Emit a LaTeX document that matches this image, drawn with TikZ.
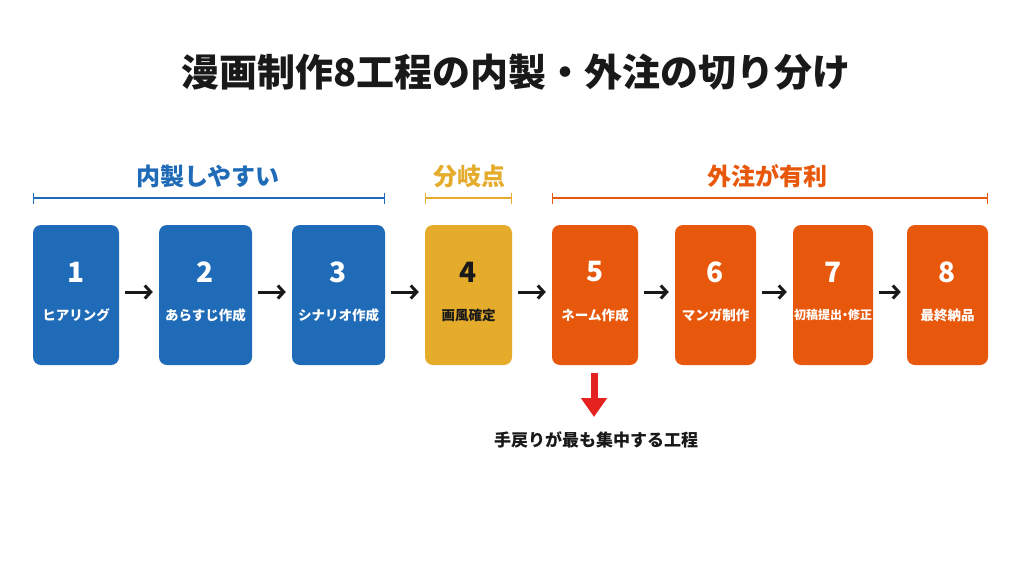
\documentclass[tikz,border=0pt]{standalone}
\usepackage{fontspec}
\setmainfont{Noto Sans CJK JP}
\newfontfamily\titlefont{Noto Sans CJK JP Black}
\usetikzlibrary{arrows.meta}

\definecolor{inblue}{RGB}{31,107,183}
\definecolor{pivotyel}{RGB}{229,172,44}
\definecolor{outorg}{RGB}{232,88,12}
\definecolor{alertred}{RGB}{228,35,32}
\definecolor{inkdark}{RGB}{25,25,25}

\begin{document}
\begin{tikzpicture}[x=1pt, y=-1pt,
    procbox/.style={rounded corners=8pt, minimum height=140pt, inner sep=0pt},
    numlab/.style={font=\bfseries\fontsize{28}{30}\selectfont},
    namelab/.style={font=\bfseries\fontsize{13.5}{15}\selectfont},
    grplab/.style={font=\bfseries\fontsize{24}{26}\selectfont},
    bracket/.style={{Bar[width=11pt]}-{Bar[width=11pt]}, line width=1.6pt},
    flow/.style={-{Straight Barb[length=6pt,width=13pt]}, line width=3pt,
                 shorten <=6pt, shorten >=6pt, inkdark},
    redarrow/.style={-{Triangle[length=19pt,width=25pt]}, line width=7pt, alertred}
  ]
  \useasboundingbox (0,0) rectangle (1024,576);

  % Title
  \node[font=\titlefont\fontsize{38}{40}\selectfont, text=inkdark] (title) at (516,72)
    {漫画制作8工程の内製・外注の切り分け};

  % Process boxes
  \foreach \i/\cx/\w/\fc/\tc/\lab in {
      1/76/86/inblue/white/ヒアリング,
      2/205.5/93/inblue/white/あらすじ作成,
      3/338.5/93/inblue/white/シナリオ作成,
      4/468.5/87/pivotyel/inkdark/画風確定,
      5/595/86/outorg/white/ネーム作成,
      6/715.5/81/outorg/white/マンガ制作,
      7/833/80/outorg/white/{\fontsize{12}{14}\selectfont 初稿提出\kern-3pt・\kern-3pt修正},
      8/947.5/81/outorg/white/最終納品} {
    \node[procbox, fill=\fc, minimum width=\w pt] (s\i) at (\cx,295) {};
    \node[numlab, text=\tc] (n\i) at (\cx,272) {\i};
    \node[namelab, text=\tc] (l\i) at (\cx,315) {\lab};
  }

  % Flow arrows
  \foreach \a/\b in {1/2, 2/3, 3/4, 4/5, 5/6, 6/7, 7/8} {
    \draw[flow] ([yshift=3pt]s\a.east) -- ([yshift=3pt]s\b.west);
  }

  % Group brackets
  \draw[bracket, inblue] (s1.west |- 0,198) -- (s3.east |- 0,198);
  \draw[bracket, pivotyel] (s4.west |- 0,198) -- (s4.east |- 0,198);
  \draw[bracket, outorg] (s5.west |- 0,198) -- (s8.east |- 0,198);
  \node[grplab, text=inblue] (gin) at (208,176) {内製しやすい};
  \node[grplab, text=pivotyel] (gpivot) at (469,176) {分岐点};
  \node[grplab, text=outorg] (gout) at (767,176) {外注が有利};

  % Rework note
  \coordinate (tip) at (594,417);
  \draw[redarrow] ([yshift=-8pt]s5.south -| tip) -- (tip);
  \node[font=\bfseries\fontsize{17}{19}\selectfont, text=inkdark] (note) at (596,440)
    {手戻りが最も集中する工程};

\end{tikzpicture}
\end{document}
